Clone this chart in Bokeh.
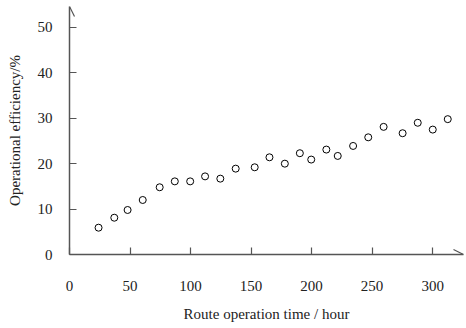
from bokeh.plotting import figure
from bokeh.embed import file_html
from bokeh.resources import INLINE
from bokeh.models import Range1d, FixedTicker, Arrow, OpenHead

hours = [24, 37, 48, 60.5, 74.5, 87, 99.7, 112, 124.6, 137.3, 153, 165.2, 177.9,
         190.3, 199.7, 212.2, 221.6, 234.3, 246.8, 259.5, 275.2, 287.7, 300.1, 312.5]
efficiency = [5.9, 8.1, 9.8, 12.0, 14.8, 16.1, 16.1, 17.2, 16.7, 18.9, 19.2, 21.4, 20.0,
              22.3, 20.9, 23.1, 21.7, 23.9, 25.8, 28.1, 26.7, 29.0, 27.5, 29.8]
x_ticks = [0, 50, 100, 150, 200, 250, 300]
y_ticks = [0, 10, 20, 30, 40, 50]

FONT = "Liberation Serif"
AX = "#555555"

p = figure(width=466, height=328, output_backend="svg", toolbar_location=None,
           x_range=Range1d(0, 325.5), y_range=Range1d(0, 54.6),
           min_border_left=69, min_border_right=3, min_border_top=6, min_border_bottom=74)
p.outline_line_color = None
p.grid.visible = False
p.background_fill_color = "white"

p.scatter(hours, efficiency, size=7, marker="circle", fill_color=None,
          line_color="black", line_width=1)

for ax in (p.xaxis[0], p.yaxis[0]):
    ax.axis_line_color = AX
    ax.axis_line_width = 1.5
    ax.major_tick_line_color = AX
    ax.major_tick_line_width = 1.2
    ax.major_tick_in = 7
    ax.major_tick_out = 0
    ax.minor_tick_line_color = None
    ax.major_label_text_font = FONT
    ax.major_label_text_font_size = "15px"
    ax.major_label_text_font_style = "normal"
    ax.major_label_text_color = "#222222"
    ax.axis_label_text_font = FONT
    ax.axis_label_text_font_size = "15px"
    ax.axis_label_text_font_style = "normal"
    ax.axis_label_text_color = "#222222"

p.xaxis.ticker = FixedTicker(ticks=x_ticks)
p.yaxis.ticker = FixedTicker(ticks=y_ticks)
p.xaxis.major_label_standoff = 26
p.yaxis.major_label_standoff = 17
p.xaxis.axis_label = "Route operation time / hour"
p.yaxis.axis_label = "Operational efficiency/%"
p.xaxis.axis_label_standoff = 12
p.yaxis.axis_label_standoff = 12

p.add_layout(Arrow(end=OpenHead(size=10, line_color=AX, line_width=1.2),
                   line_alpha=0, x_start=0, y_start=50, x_end=0, y_end=54.6))
p.add_layout(Arrow(end=OpenHead(size=10, line_color=AX, line_width=1.2),
                   line_alpha=0, x_start=300, y_start=0, x_end=325.5, y_end=0))

open("out.html", "w").write(file_html(p, INLINE))
